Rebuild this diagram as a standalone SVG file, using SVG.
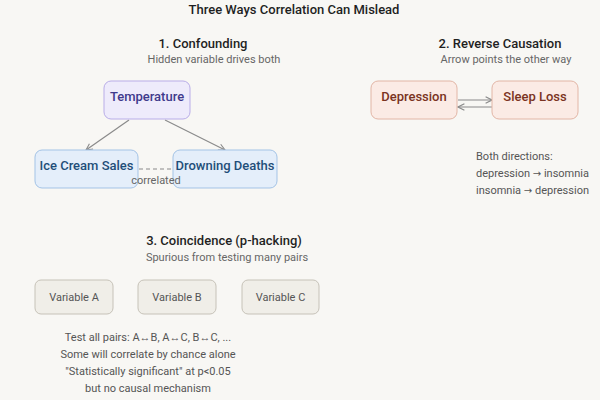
<svg xmlns="http://www.w3.org/2000/svg" width="600" height="400" viewBox="0 0 600 400">
  <defs>
    <marker id="arrow" viewBox="0 0 10 10" refX="9" refY="5" markerWidth="8" markerHeight="8" orient="auto-start-reverse" markerUnits="userSpaceOnUse">
      <path d="M1,1 L9,5 L1,9" fill="none" stroke="#8a8a8a" stroke-width="1.4"/>
    </marker>
    <style>
      text { font-family: Roboto, "Liberation Sans", sans-serif; }
      .title { font-size: 13px; font-weight: 500; fill: #1f1f1f; text-anchor: middle; }
      .head { font-size: 13px; font-weight: 500; fill: #1f1f1f; text-anchor: middle; }
      .sub { font-size: 11px; fill: #666; text-anchor: middle; }
      .note { font-size: 11px; fill: #555; }
      .sym { font-family: "DejaVu Sans", sans-serif; font-size: 10px; }
      .lbl { font-size: 13px; font-weight: 500; text-anchor: middle; }
      .purple rect { fill: #eeebfb; stroke: #b9ade8; stroke-width: 1; }
      .purple text { fill: #3f3a8c; }
      .blue rect { fill: #e4eefa; stroke: #a3c3e6; stroke-width: 1; }
      .blue text { fill: #1f4e79; }
      .peach rect { fill: #fbebe5; stroke: #e2b6a6; stroke-width: 1; }
      .peach text { fill: #7a3322; }
      .grey rect { fill: #f0eee8; stroke: #c6c2b8; stroke-width: 1; }
      .grey text { fill: #555; font-size: 11px; font-weight: 400; }
      .edge { stroke: #8a8a8a; stroke-width: 1.2; fill: none; }
    </style>
  </defs>

  <rect width="600" height="400" fill="#f8f7f4"/>

  <text class="title" x="294" y="14">Three Ways Correlation Can Mislead</text>

  <!-- Section 1: confounding -->
  <text class="head" x="203" y="48">1. Confounding</text>
  <text class="sub" x="214" y="63">Hidden variable drives both</text>

  <g id="connectors">
    <path class="edge" d="M129,120 L86,150" marker-end="url(#arrow)"/>
    <path class="edge" d="M165,120 L225,150" marker-end="url(#arrow)"/>
    <path class="edge" d="M139,169 L173,169" stroke-dasharray="4,3"/>
    <path class="edge" d="M458,100 L492,100" marker-end="url(#arrow)"/>
    <path class="edge" d="M492,107 L458,107" marker-end="url(#arrow)"/>
  </g>

  <g id="temperature" class="purple">
    <rect x="104" y="81" width="86" height="38" rx="7"/>
    <text class="lbl" x="147" y="101">Temperature</text>
  </g>
  <g id="ice-cream" class="blue">
    <rect x="35" y="150" width="103" height="38" rx="7"/>
    <text class="lbl" x="86.5" y="170">Ice Cream Sales</text>
  </g>
  <g id="drowning" class="blue">
    <rect x="173" y="150" width="104" height="38" rx="7"/>
    <text class="lbl" x="225" y="170">Drowning Deaths</text>
  </g>
  <text class="sub" x="156" y="184">correlated</text>

  <!-- Section 2: reverse causation -->
  <text class="head" x="500" y="48">2. Reverse Causation</text>
  <text class="sub" x="506" y="63">Arrow points the other way</text>

  <g id="depression" class="peach">
    <rect x="371" y="81" width="86" height="38" rx="7"/>
    <text class="lbl" x="414" y="101">Depression</text>
  </g>
  <g id="sleep-loss" class="peach">
    <rect x="492" y="81" width="86" height="38" rx="7"/>
    <text class="lbl" x="535" y="101">Sleep Loss</text>
  </g>

  <text class="note" x="476" y="160">Both directions:</text>
  <text class="note" x="476" y="177">depression <tspan class="sym">→</tspan> insomnia</text>
  <text class="note" x="476" y="194">insomnia <tspan class="sym">→</tspan> depression</text>

  <!-- Section 3: coincidence -->
  <text class="head" x="224" y="245">3. Coincidence (p-hacking)</text>
  <text class="sub" x="227" y="261">Spurious from testing many pairs</text>

  <g id="var-a" class="grey">
    <rect x="35" y="280" width="78" height="34" rx="6"/>
    <text class="lbl" x="74" y="301">Variable A</text>
  </g>
  <g id="var-b" class="grey">
    <rect x="138" y="280" width="78" height="34" rx="6"/>
    <text class="lbl" x="177" y="301">Variable B</text>
  </g>
  <g id="var-c" class="grey">
    <rect x="242" y="280" width="77" height="34" rx="6"/>
    <text class="lbl" x="280.5" y="301">Variable C</text>
  </g>

  <text class="note" x="148" y="341" text-anchor="middle">Test all pairs: A↔B, A↔C, B↔C, ...</text>
  <text class="note" x="148" y="358" text-anchor="middle">Some will correlate by chance alone</text>
  <text class="note" x="148" y="375" text-anchor="middle">"Statistically significant" at p&lt;0.05</text>
  <text class="note" x="148" y="392" text-anchor="middle">but no causal mechanism</text>
</svg>
